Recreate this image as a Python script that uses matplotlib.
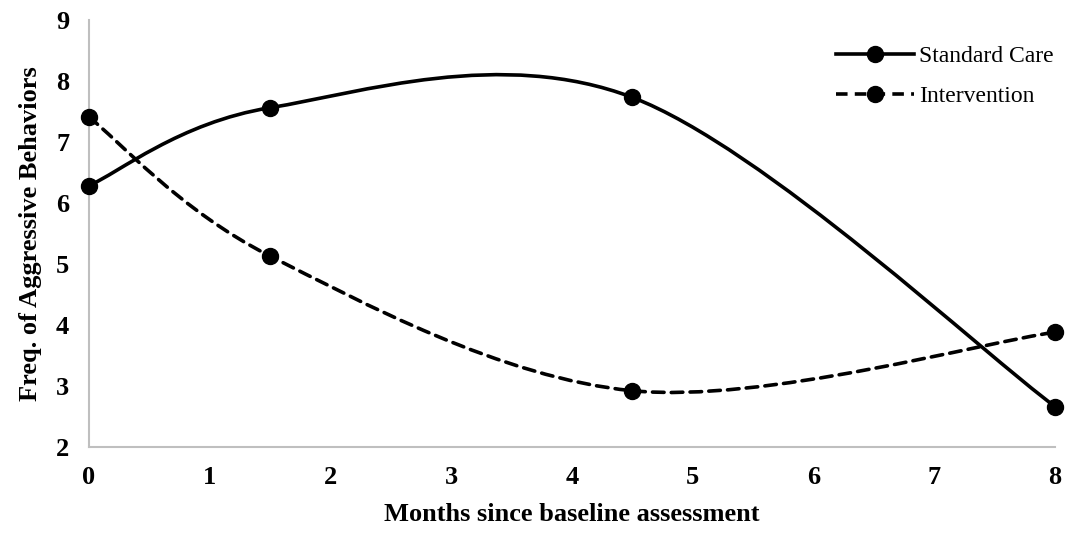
# frecuencia de conductas agresivas, cuidado estandar vs intervencion
import numpy as np
import matplotlib.pyplot as plt
from matplotlib.path import Path
from matplotlib.patches import PathPatch
from matplotlib.lines import Line2D

meses = [0, 1.5, 4.5, 8]
estandar = [6.28, 7.56, 7.73, 2.66]
intervencion = [7.41, 5.13, 2.92, 3.88]
nombres = ['Standard Care', 'Intervention']

plt.rcParams['font.family'] = ['Liberation Serif', 'DejaVu Serif']


# curva suavizada tipo Excel (bezier con puntos de control de los vecinos)
def curva(x, y):
    p = np.column_stack([x, y]).astype(float)
    ext = np.vstack([p[0], p, p[-1]])
    verts = [p[0]]
    codes = [Path.MOVETO]
    for i in range(len(p) - 1):
        a, b, c, d = ext[i], ext[i + 1], ext[i + 2], ext[i + 3]
        verts += [b + (c - a) / 6, c - (d - b) / 6, c]
        codes += [Path.CURVE4] * 3
    return Path(verts, codes)


fig = plt.figure(figsize=(10.68, 5.39), dpi=100)
ax = fig.add_axes([0.083, 0.171, 0.905, 0.792])

estilos = ['-', (0, (3.2, 2))]
series = [estandar, intervencion]
handles = []
for serie, ls, nom in zip(series, estilos, nombres):
    ax.add_patch(PathPatch(curva(meses, serie), fill=False, edgecolor='black',
                           lw=2.6, linestyle=ls, capstyle='round', zorder=2))
    ax.plot(meses, serie, linestyle='none', marker='o', ms=11.5,
            color='black', zorder=3, clip_on=False)
    handles.append(Line2D([], [], color='black', lw=2.6, linestyle=ls,
                          marker='o', ms=11.5))

ax.set_xlim(0, 8)
ax.set_ylim(2, 9)
ax.set_xticks(range(0, 9))
ax.set_yticks(range(2, 10))
for s in ['top', 'right']:
    ax.spines[s].set_visible(False)
for s in ['left', 'bottom']:
    ax.spines[s].set_color('#bfbfbf')
    ax.spines[s].set_linewidth(1.5)
ax.tick_params(length=0, labelsize=19, pad=14)
for t in ax.get_xticklabels() + ax.get_yticklabels():
    t.set_fontweight('bold')

ax.set_xlabel('Months since baseline assessment', fontsize=19,
              fontweight='bold', labelpad=10)
ax.set_ylabel('Freq. of Aggressive Behaviors', fontsize=19,
              fontweight='bold', labelpad=10)

ax.legend(handles, nombres, loc='upper right', bbox_to_anchor=(1.02, 0.99),
          frameon=False, fontsize=17, handlelength=3.3, handletextpad=0.2,
          labelspacing=0.8)

plt.savefig('out.png', dpi=100)
